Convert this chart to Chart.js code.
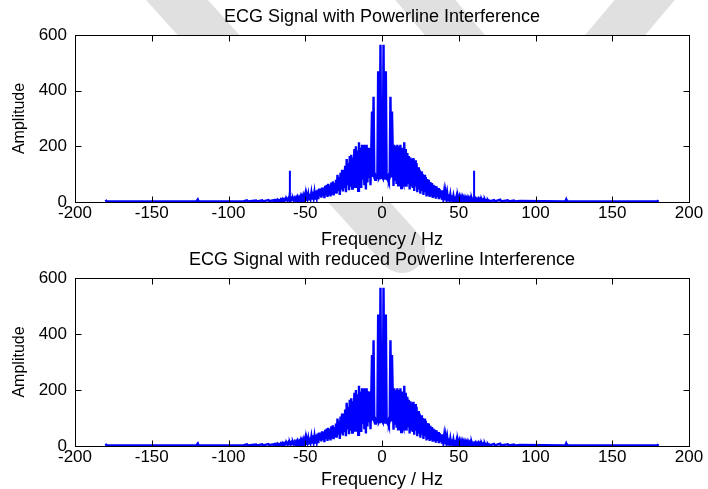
<!DOCTYPE html>
<html>
<head>
<meta charset="utf-8">
<script src="https://cdn.jsdelivr.net/npm/chart.js@4.4.1/dist/chart.umd.min.js"></script>
<style>
  body { margin: 0; background: #fff; width: 708px; height: 489px; overflow: hidden; position: relative; }
  .plot { position: absolute; left: 0; width: 708px; }
  #mark { position: absolute; left: 0; top: 0; }
</style>
</head>
<body>
<!-- faint background watermark -->
<svg id="mark" width="708" height="489">
  <g stroke="#e0e0e0" stroke-width="46" stroke-linecap="round">
    <line x1="150" y1="-30" x2="402" y2="250" />
    <line x1="400" y1="-30" x2="535" y2="130" />
    <line x1="670" y1="-30" x2="535" y2="130" />
  </g>
</svg>
<div class="plot" style="top:0;height:250px"><canvas id="topChart"></canvas></div>
<div class="plot" style="top:242px;height:247px"><canvas id="bottomChart"></canvas></div>
<script>
// axis ticks
const freqTicks = [-200, -150, -100, -50, 0, 50, 100, 150, 200];
const ampTicks = [0, 200, 400, 600];

// low-level tail of the spectrum, outside +-70 Hz
const tailLeftFreq = [-180, -179.5, -121, -120, -119.5, -90, -88, -87.5, -82, -81.5, -78, -77.5, -74, -73.5, -71, -70.5];
const tailLeftAmp  = [8, 2, 2, 9, 2, 3, 6, 2, 5, 2, 6, 2, 7, 3, 6, 3];
const tailRightFreq = [70.5, 73, 73.5, 77, 77.5, 82, 82.5, 86, 86.5, 90, 119.5, 120, 120.5, 179.5, 180];
const tailRightAmp  = [3, 7, 2, 8, 2, 6, 2, 5, 2, 4, 2, 9, 2, 2, 7];

// ECG spectrum -70 .. 70 Hz, every 0.5 Hz
const gridStart = -70, gridStep = 0.5;
const ecgAmp = [
  6, 3, 7, 4, 8, 3, 6, 4, 9, 5,            // -70
  10, 4, 9, 5, 11, 6, 10, 5, 12, 6,        // -65
  12, 5, 12, 7, 13, 6, 14, 8, 15, 7,       // -60
  17, 8, 16, 9, 19, 6, 20, 10, 22, 9,      // -55
  25, 8, 24, 12, 28, 10, 30, 14, 33, 12,   // -50
  38, 15, 35, 12, 40, 18, 44, 10, 48, 20,  // -45
  48, 16, 52, 22, 50, 14, 58, 25, 62, 18,  // -40
  65, 28, 60, 20, 70, 30, 74, 24, 68, 35,  // -35
  80, 30, 98, 40, 90, 25, 105, 45, 116, 38,      // -30
  110, 50, 130, 35, 154, 60, 140, 42, 165, 55,   // -25
  170, 48, 160, 70, 190, 55, 200, 65, 185, 40,   // -20
  215, 75, 195, 50, 206, 80, 200, 60, 206, 45,   // -15
  206, 70, 195, 85, 194, 60, 180, 325, 90, 378,  // -10
  88, 80, 92, 85, 86, 470, 85, 90, 565, 88,      // -5
  90, 85, 565, 90, 84, 470, 88, 82, 90, 78,      // 0
  88, 378, 92, 325, 185, 58, 206, 80, 200, 65,   // 5
  206, 60, 200, 75, 206, 50, 195, 80, 70, 215,   // 10
  60, 190, 55, 176, 70, 165, 45, 160, 60, 155,   // 15
  50, 158, 40, 150, 55, 140, 35, 125, 45, 116,   // 20
  30, 110, 40, 100, 25, 98, 35, 90, 20, 82,      // 25
  28, 80, 18, 72, 25, 68, 15, 62, 22, 58,  // 30
  12, 56, 18, 50, 10, 46, 15, 42, 8, 40,   // 35
  12, 36, 7, 33, 10, 30, 6, 28, 9, 26,     // 40
  5, 24, 8, 22, 4, 21, 7, 19, 4, 18,       // 45
  6, 18, 4, 17, 5, 16, 3, 15, 5, 14,       // 50
  3, 14, 4, 13, 3, 12, 4, 12, 3, 11,       // 55
  12, 4, 11, 3, 10, 4, 11, 3, 10, 4,       // 60
  9, 3, 8, 4, 9, 3, 6, 4, 7, 3,            // 65
  5                                        // 70
];

// powerline interference lines (top plot only)
const humFreq = [-60, 60];
const humAmp = [112, 112];

function spectrumPoints() {
  const pts = [];
  tailLeftFreq.forEach((f, i) => pts.push({ x: f, y: tailLeftAmp[i] }));
  ecgAmp.forEach((a, i) => pts.push({ x: gridStart + i * gridStep, y: a }));
  tailRightFreq.forEach((f, i) => pts.push({ x: f, y: tailRightAmp[i] }));
  return pts;
}

function humPoints() {
  const pts = [];
  humFreq.forEach((f, i) => {
    pts.push({ x: f, y: 0 }, { x: f, y: humAmp[i] }, { x: f, y: 0 }, { x: null, y: null });
  });
  return pts;
}

const FAMILY = '"Liberation Sans", Arial, Helvetica, sans-serif';
const TICK_FONT = { family: FAMILY, size: 17, lineHeight: 1 };
const TITLE_FONT = { family: FAMILY, size: 18, lineHeight: 1, weight: 'normal' };
const YLABEL_FONT = { family: FAMILY, size: 16, lineHeight: 1 };

// MATLAB style box with inward ticks on all sides
const matlabBox = {
  id: 'matlabBox',
  beforeDatasetsDraw(chart) {
    const { ctx, chartArea: a } = chart;
    ctx.save();
    ctx.fillStyle = '#fff';
    ctx.fillRect(a.left, a.top, a.right - a.left, a.bottom - a.top);
    ctx.restore();
  },
  afterDraw(chart) {
    const { ctx, chartArea: a, scales: { x, y } } = chart;
    const L = Math.round(a.left) + 0.5, R = Math.round(a.right) + 0.5;
    const T = Math.round(a.top) + 0.5, B = Math.round(a.bottom) + 0.5;
    ctx.save();
    ctx.strokeStyle = '#000';
    ctx.lineWidth = 1;
    ctx.beginPath();
    x.ticks.forEach(t => {
      const px = Math.round(x.getPixelForValue(t.value)) + 0.5;
      ctx.moveTo(px, B); ctx.lineTo(px, B - 6);
      ctx.moveTo(px, T); ctx.lineTo(px, T + 6);
    });
    y.ticks.forEach(t => {
      const py = Math.round(y.getPixelForValue(t.value)) + 0.5;
      ctx.moveTo(L, py); ctx.lineTo(L + 6, py);
      ctx.moveTo(R, py); ctx.lineTo(R - 6, py);
    });
    ctx.stroke();
    ctx.strokeRect(L, T, R - L, B - T);
    ctx.restore();
  }
};

function makeChart(id, title, withHum, titlePad, bottomGap, xTitlePad) {
  const datasets = [{
    data: spectrumPoints(),
    borderColor: '#0000ff',
    borderWidth: 2.4,
    pointRadius: 0,
    tension: 0
  }];
  if (withHum) {
    datasets.push({
      data: humPoints(),
      borderColor: '#0000ff',
      borderWidth: 2,
      pointRadius: 0,
      spanGaps: false
    });
  }
  return new Chart(document.getElementById(id), {
    type: 'line',
    data: { datasets: datasets },
    plugins: [matlabBox],
    options: {
      responsive: true,
      maintainAspectRatio: false,
      animation: false,
      layout: { padding: { right: 19, left: 0 } },
      plugins: {
        legend: { display: false },
        tooltip: { enabled: false },
        title: {
          display: true,
          text: title,
          fullSize: false,
          color: '#000',
          font: TITLE_FONT,
          padding: titlePad
        }
      },
      scales: {
        x: {
          type: 'linear',
          min: -200, max: 200,
          afterBuildTicks: s => { s.ticks = freqTicks.map(v => ({ value: v })); },
          afterFit: s => { s.height = bottomGap; },
          grid: { display: false, drawTicks: false },
          border: { display: false },
          ticks: { color: '#000', font: TICK_FONT, padding: 3, maxRotation: 0 },
          title: { display: true, text: 'Frequency / Hz', color: '#000', font: TITLE_FONT, padding: { top: 0, bottom: xTitlePad } }
        },
        y: {
          min: 0, max: 600,
          afterBuildTicks: s => { s.ticks = ampTicks.map(v => ({ value: v })); },
          afterFit: s => { s.width = 75; },
          grid: { display: false, drawTicks: false },
          border: { display: false },
          ticks: { color: '#000', font: TICK_FONT, padding: 8 },
          title: { display: true, text: 'Amplitude', color: '#000', font: YLABEL_FONT, padding: { top: 12, bottom: 0 } }
        }
      }
    }
  });
}

makeChart('topChart', 'ECG Signal with Powerline Interference', true, { top: 8, bottom: 9 }, 48, 1);
makeChart('bottomChart', 'ECG Signal with reduced Powerline Interference', false, { top: 9, bottom: 9 }, 43, 0);
</script>
</body>
</html>
